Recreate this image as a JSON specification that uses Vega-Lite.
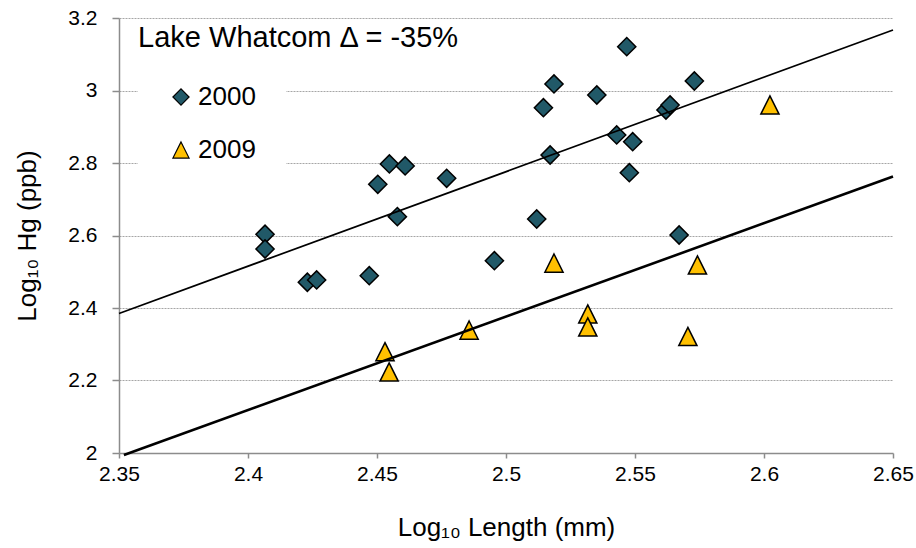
{
  "$schema": "https://vega.github.io/schema/vega-lite/v6.json",
  "width": 774,
  "height": 435,
  "autosize": "none",
  "padding": {"left": 119, "top": 18, "right": 23, "bottom": 95},
  "background": "white",
  "config": {"view": {"stroke": null}, "font": "Liberation Sans"},
  "datasets": {
    "points": [
      {"year": "2000", "len": 2.4066, "hg": 2.6034},
      {"year": "2000", "len": 2.4066, "hg": 2.5628},
      {"year": "2000", "len": 2.4230, "hg": 2.4710},
      {"year": "2000", "len": 2.4266, "hg": 2.4773},
      {"year": "2000", "len": 2.4470, "hg": 2.4891},
      {"year": "2000", "len": 2.4503, "hg": 2.7413},
      {"year": "2000", "len": 2.4548, "hg": 2.7973},
      {"year": "2000", "len": 2.4609, "hg": 2.7918},
      {"year": "2000", "len": 2.4579, "hg": 2.6520},
      {"year": "2000", "len": 2.4770, "hg": 2.7578},
      {"year": "2000", "len": 2.4955, "hg": 2.5305},
      {"year": "2000", "len": 2.5119, "hg": 2.6455},
      {"year": "2000", "len": 2.5145, "hg": 2.9526},
      {"year": "2000", "len": 2.5171, "hg": 2.8221},
      {"year": "2000", "len": 2.5186, "hg": 3.0180},
      {"year": "2000", "len": 2.5352, "hg": 2.9876},
      {"year": "2000", "len": 2.5429, "hg": 2.8773},
      {"year": "2000", "len": 2.5468, "hg": 3.1209},
      {"year": "2000", "len": 2.5478, "hg": 2.7733},
      {"year": "2000", "len": 2.5491, "hg": 2.8588},
      {"year": "2000", "len": 2.5620, "hg": 2.9462},
      {"year": "2000", "len": 2.5636, "hg": 2.9600},
      {"year": "2000", "len": 2.5671, "hg": 2.6014},
      {"year": "2000", "len": 2.5730, "hg": 3.0262},
      {"year": "2009", "len": 2.4531, "hg": 2.2795},
      {"year": "2009", "len": 2.4547, "hg": 2.2234},
      {"year": "2009", "len": 2.4857, "hg": 2.3390},
      {"year": "2009", "len": 2.5186, "hg": 2.5240},
      {"year": "2009", "len": 2.5317, "hg": 2.3835},
      {"year": "2009", "len": 2.5317, "hg": 2.3476},
      {"year": "2009", "len": 2.5705, "hg": 2.3214},
      {"year": "2009", "len": 2.5742, "hg": 2.5186},
      {"year": "2009", "len": 2.6023, "hg": 2.9600}
    ],
    "fits": [
      {"year": "2000", "len": 2.35, "hg": 2.385},
      {"year": "2000", "len": 2.65, "hg": 3.167},
      {"year": "2009", "len": 2.3519, "hg": 1.9945},
      {"year": "2009", "len": 2.65, "hg": 2.7627}
    ],
    "note": [{"text": "Lake Whatcom Δ = -35%"}]
  },
  "layer": [
    {
      "data": {"name": "points"},
      "mark": {"type": "point", "filled": true, "opacity": 1, "size": 330, "stroke": "black", "strokeWidth": 1.5},
      "encoding": {
        "x": {
          "field": "len", "type": "quantitative",
          "scale": {"domain": [2.35, 2.65], "zero": false, "nice": false},
          "axis": {
            "title": "Log₁₀ Length (mm)",
            "values": [2.35, 2.4, 2.45, 2.5, 2.55, 2.6, 2.65],
            "format": "~g",
            "grid": false,
            "labelFlush": false,
            "domainColor": "#8c8c8c", "domainWidth": 1.5,
            "tickColor": "#8c8c8c", "tickWidth": 1.5, "tickSize": 5,
            "labelFontSize": 21, "labelColor": "black", "labelFont": "Liberation Sans", "labelPadding": 5,
            "titleFontSize": 26, "titleFontWeight": "normal", "titleColor": "black", "titleFont": "Liberation Sans", "titlePadding": 30
          }
        },
        "y": {
          "field": "hg", "type": "quantitative",
          "scale": {"domain": [2, 3.2], "zero": false, "nice": false},
          "axis": {
            "title": "Log₁₀ Hg (ppb)",
            "values": [2, 2.2, 2.4, 2.6, 2.8, 3, 3.2],
            "format": "~g",
            "grid": true, "gridColor": "#a6a6a6", "gridDash": [2, 1], "gridWidth": 1,
            "labelFlush": false,
            "domainColor": "#8c8c8c", "domainWidth": 1.5,
            "tickColor": "#8c8c8c", "tickWidth": 1.5, "tickSize": 7,
            "labelFontSize": 21, "labelColor": "black", "labelFont": "Liberation Sans", "labelPadding": 15,
            "titleFontSize": 26, "titleFontWeight": "normal", "titleColor": "black", "titleFont": "Liberation Sans", "titlePadding": 27
          }
        },
        "color": {
          "field": "year", "type": "nominal",
          "scale": {"domain": ["2000", "2009"], "range": ["#215968", "#FFC000"]},
          "legend": {
            "orient": "none", "legendX": 19, "legendY": 36, "title": null, "padding": 30,
            "fillColor": "white", "strokeColor": null,
            "labelFontSize": 26, "labelFont": "Liberation Sans", "labelColor": "black", "labelOffset": 4,
            "symbolSize": 260, "symbolStrokeColor": "black", "symbolStrokeWidth": 1.2, "rowPadding": 27
          }
        },
        "shape": {
          "field": "year", "type": "nominal",
          "scale": {"domain": ["2000", "2009"], "range": ["diamond", "M0,-1L1,1L-1,1Z"]},
          "legend": {
            "orient": "none", "legendX": 19, "legendY": 36, "title": null, "padding": 30,
            "fillColor": "white", "strokeColor": null,
            "labelFontSize": 26, "labelFont": "Liberation Sans", "labelColor": "black", "labelOffset": 4,
            "symbolSize": 260, "symbolStrokeColor": "black", "symbolStrokeWidth": 1.2, "rowPadding": 27
          }
        }
      }
    },
    {
      "data": {"name": "fits"},
      "transform": [{"filter": "datum.year == '2000'"}],
      "mark": {"type": "line", "color": "black", "strokeWidth": 1.7, "clip": false},
      "encoding": {
        "x": {"field": "len", "type": "quantitative"},
        "y": {"field": "hg", "type": "quantitative"}
      }
    },
    {
      "data": {"name": "fits"},
      "transform": [{"filter": "datum.year == '2009'"}],
      "mark": {"type": "line", "color": "black", "strokeWidth": 2.6, "clip": false},
      "encoding": {
        "x": {"field": "len", "type": "quantitative"},
        "y": {"field": "hg", "type": "quantitative"}
      }
    },
    {
      "data": {"name": "note"},
      "mark": {"type": "text", "align": "left", "baseline": "alphabetic", "fontSize": 29, "font": "Liberation Sans", "color": "black"},
      "encoding": {
        "text": {"field": "text", "type": "nominal"},
        "x": {"datum": 2.3574, "type": "quantitative"},
        "y": {"datum": 3.12, "type": "quantitative"}
      }
    }
  ]
}
